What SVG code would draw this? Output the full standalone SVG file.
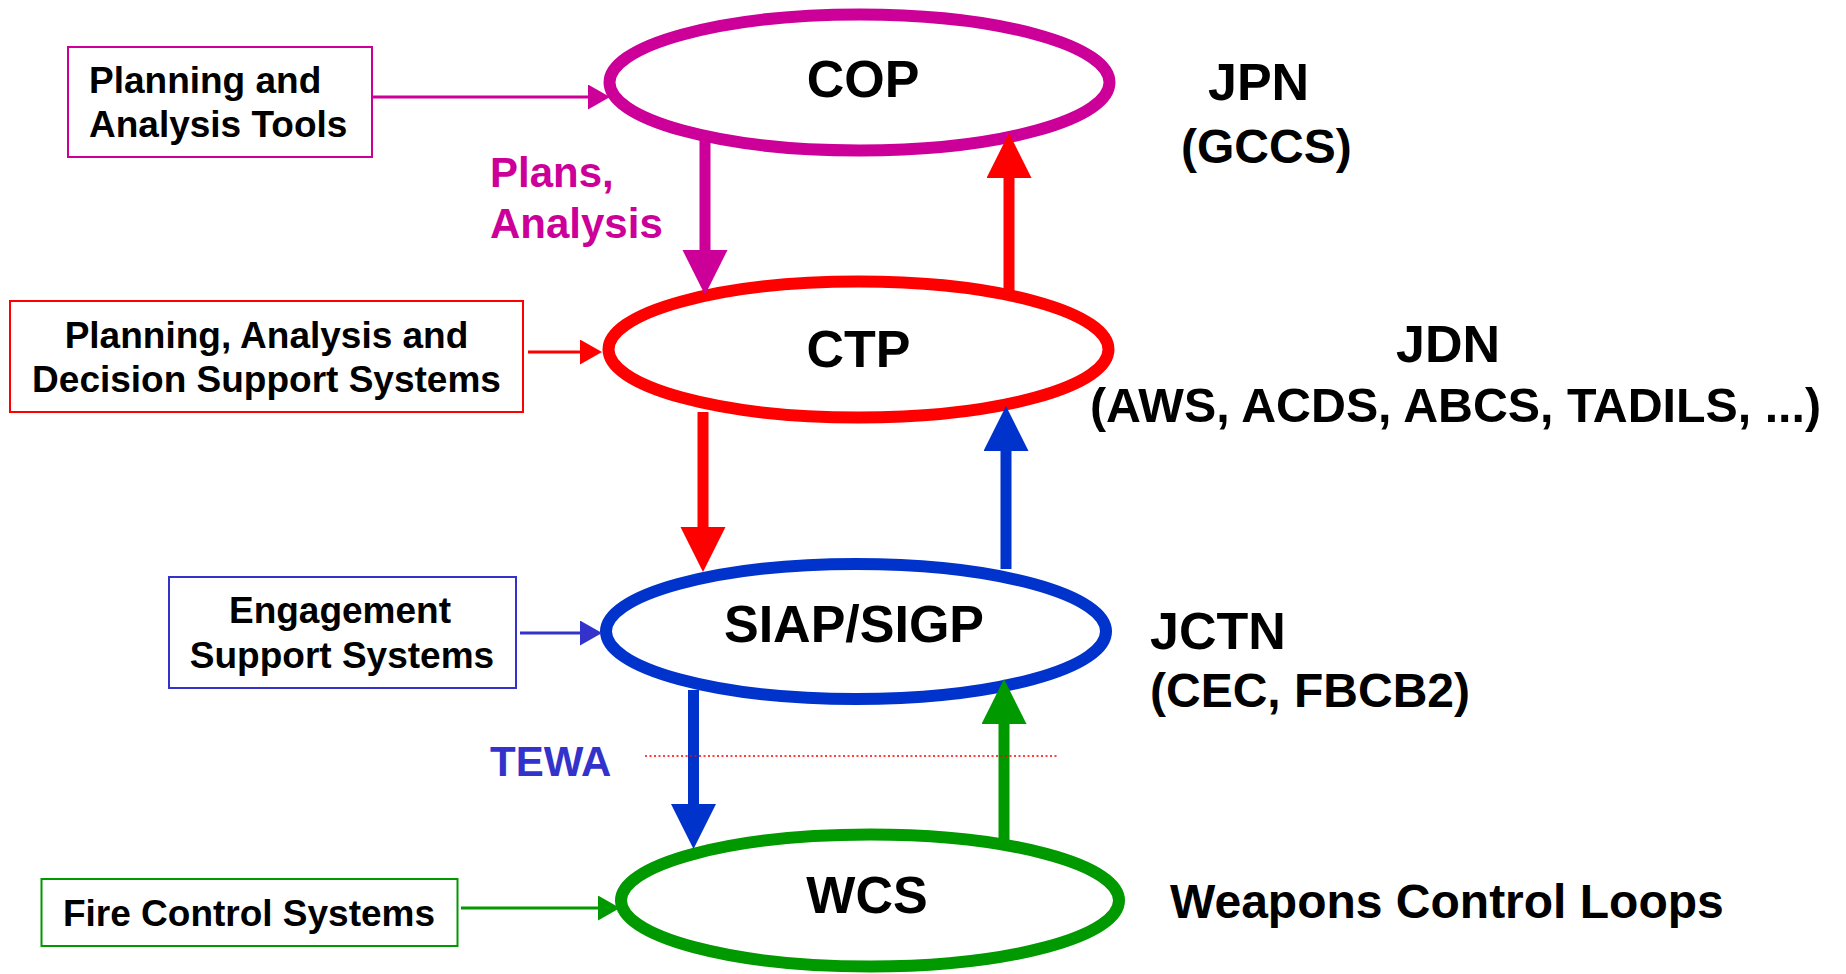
<svg xmlns="http://www.w3.org/2000/svg" width="1846" height="974" viewBox="0 0 1846 974">
<style>
text{font-family:"Liberation Sans",Arial,sans-serif;font-weight:bold;fill:#000}
.big{font-size:52px}
.sub{font-size:48px}
.box{font-size:37px}
.lbl{font-size:42px}
.mid{text-anchor:middle}
.ell{fill:#fff;stroke-width:12}
.rect{fill:#fff;stroke-width:2}
.thick{stroke-width:11;fill:none}
.thin{stroke-width:3;fill:none}
</style>
<defs>
<marker id="hM" markerUnits="userSpaceOnUse" markerWidth="46" markerHeight="46" refX="0" refY="22.5" orient="auto" viewBox="0 0 46 46"><path d="M0,0 L45,22.5 L0,45 z" fill="#cc0099"/></marker>
<marker id="hR" markerUnits="userSpaceOnUse" markerWidth="46" markerHeight="46" refX="0" refY="22.5" orient="auto" viewBox="0 0 46 46"><path d="M0,0 L45,22.5 L0,45 z" fill="#ff0000"/></marker>
<marker id="hB" markerUnits="userSpaceOnUse" markerWidth="46" markerHeight="46" refX="0" refY="22.5" orient="auto" viewBox="0 0 46 46"><path d="M0,0 L45,22.5 L0,45 z" fill="#0033cc"/></marker>
<marker id="hG" markerUnits="userSpaceOnUse" markerWidth="46" markerHeight="46" refX="0" refY="22.5" orient="auto" viewBox="0 0 46 46"><path d="M0,0 L45,22.5 L0,45 z" fill="#009900"/></marker>
<marker id="sM" markerUnits="userSpaceOnUse" markerWidth="24" markerHeight="26" refX="0" refY="12.5" orient="auto" viewBox="0 0 24 26"><path d="M0,0 L22,12.5 L0,25 z" fill="#cc0099"/></marker>
<marker id="sR" markerUnits="userSpaceOnUse" markerWidth="24" markerHeight="26" refX="0" refY="12.5" orient="auto" viewBox="0 0 24 26"><path d="M0,0 L22,12.5 L0,25 z" fill="#ff0000"/></marker>
<marker id="sB" markerUnits="userSpaceOnUse" markerWidth="24" markerHeight="26" refX="0" refY="12.5" orient="auto" viewBox="0 0 24 26"><path d="M0,0 L22,12.5 L0,25 z" fill="#3333cc"/></marker>
<marker id="sG" markerUnits="userSpaceOnUse" markerWidth="24" markerHeight="26" refX="0" refY="12.5" orient="auto" viewBox="0 0 24 26"><path d="M0,0 L22,12.5 L0,25 z" fill="#009900"/></marker>
</defs>
<rect width="1846" height="974" fill="#fff"/>

<g id="node-cop">
<ellipse class="ell" cx="859.5" cy="82.5" rx="250" ry="68" stroke="#cc0099"/>
<text class="big mid" x="863" y="97">COP</text>
</g>
<g id="node-ctp">
<ellipse class="ell" cx="858.5" cy="349.5" rx="250" ry="68" stroke="#ff0000"/>
<text class="big mid" x="858.5" y="367">CTP</text>
</g>
<g id="node-siap">
<ellipse class="ell" cx="856" cy="631.5" rx="250" ry="67.5" stroke="#0033cc"/>
<text class="big mid" x="854" y="642">SIAP/SIGP</text>
</g>
<g id="node-wcs">
<ellipse class="ell" cx="870" cy="900.5" rx="249" ry="66" stroke="#009900"/>
<text class="big mid" x="867" y="913">WCS</text>
</g>

<g id="node-pat">
<rect class="rect" x="68" y="47" width="304" height="110" stroke="#cc0099"/>
<text class="box" x="89" y="93">Planning and</text>
<text class="box" x="89" y="137">Analysis Tools</text>
</g>
<g id="node-padss">
<rect class="rect" x="10" y="301" width="513" height="111" stroke="#ff0000"/>
<text class="box mid" x="266.5" y="348">Planning, Analysis and</text>
<text class="box mid" x="266.5" y="392">Decision Support Systems</text>
</g>
<g id="node-ess">
<rect class="rect" x="169" y="577" width="347" height="111" stroke="#3333cc"/>
<text class="box mid" x="340" y="623">Engagement</text>
<text class="box mid" x="342" y="668">Support Systems</text>
</g>
<g id="node-fcs">
<rect class="rect" x="41.5" y="879" width="416" height="67" stroke="#009900"/>
<text class="box mid" x="249" y="926">Fire Control Systems</text>
</g>

<g id="node-jpn">
<text class="big" x="1208" y="100">JPN</text>
<text class="sub" x="1181" y="163">(GCCS)</text>
</g>
<g id="node-jdn">
<text class="big" x="1396" y="362">JDN</text>
<text class="sub" x="1090" y="422" textLength="731" lengthAdjust="spacingAndGlyphs">(AWS, ACDS, ABCS, TADILS, ...)</text>
</g>
<g id="node-jctn">
<text class="big" x="1150" y="649">JCTN</text>
<text class="sub" x="1150" y="707">(CEC, FBCB2)</text>
</g>
<g id="node-wcl">
<text class="sub" x="1170" y="918">Weapons Control Loops</text>
</g>

<g id="labels">
<text class="lbl" x="490" y="187" style="fill:#cc0099">Plans,</text>
<text class="lbl" x="490" y="238" style="fill:#cc0099">Analysis</text>
<text class="lbl" x="490" y="776" style="fill:#3333cc">TEWA</text>
</g>

<g id="connectors">
<line class="thick" x1="705" y1="138" x2="705" y2="250" stroke="#cc0099" marker-end="url(#hM)"/>
<line class="thick" x1="1009" y1="291" x2="1009" y2="178" stroke="#ff0000" marker-end="url(#hR)"/>
<line class="thick" x1="703" y1="412" x2="703" y2="527" stroke="#ff0000" marker-end="url(#hR)"/>
<line class="thick" x1="1006" y1="569" x2="1006" y2="451" stroke="#0033cc" marker-end="url(#hB)"/>
<line class="thick" x1="693.5" y1="690" x2="693.5" y2="804" stroke="#0033cc" marker-end="url(#hB)"/>
<line class="thick" x1="1004" y1="840" x2="1004" y2="724" stroke="#009900" marker-end="url(#hG)"/>
<line class="thin" x1="372" y1="97" x2="588" y2="97" stroke="#cc0099" marker-end="url(#sM)"/>
<line class="thin" x1="528" y1="352" x2="580" y2="352" stroke="#ff0000" marker-end="url(#sR)"/>
<line class="thin" x1="520" y1="633" x2="580" y2="633" stroke="#3333cc" marker-end="url(#sB)"/>
<line class="thin" x1="461" y1="908" x2="598" y2="908" stroke="#009900" marker-end="url(#sG)"/>
<line x1="645" y1="756" x2="1058" y2="756" stroke="#ff0000" stroke-width="1.5" stroke-dasharray="2 2.5"/>
</g>
</svg>
